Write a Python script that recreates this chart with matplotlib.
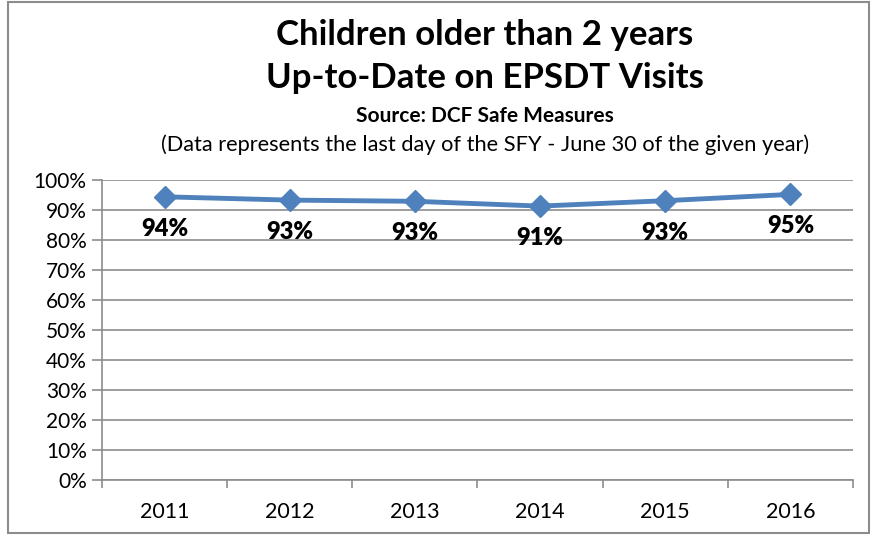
import matplotlib
matplotlib.use("Agg")
import matplotlib.pyplot as plt
from matplotlib.patches import Rectangle
import numpy as np

years = ["2011", "2012", "2013", "2014", "2015", "2016"]
values = [94.4, 93.3, 92.9, 91.3, 93.1, 95.2]
labels = ["94%", "93%", "93%", "91%", "93%", "95%"]
yticks = [0, 10, 20, 30, 40, 50, 60, 70, 80, 90, 100]

plt.rcParams['font.family'] = ['Lato', 'DejaVu Sans']

fig = plt.figure(figsize=(8.76, 5.39), dpi=100)
W, H = 876, 539
ax = fig.add_axes([102 / W, (H - 480) / H, (853 - 102) / W, 300 / H])

grey = "#8c8c8c"
x = np.arange(len(years))
ax.set_xlim(-0.5, len(years) - 0.5)
ax.set_ylim(0, 100)
ax.set_yticks(yticks)
ax.set_yticklabels([f"{v}%" for v in yticks], fontsize=15)
ax.yaxis.grid(True, color=grey, linewidth=1.2)
ax.set_axisbelow(True)
ax.set_xticks(x)
ax.set_xticklabels(years, fontsize=15.5)
ax.set_xticks(np.arange(-0.5, len(years)), minor=True)
ax.tick_params(axis='x', which='major', length=0, pad=16)
ax.tick_params(axis='x', which='minor', length=6, color=grey, width=1.2, direction='out')
ax.tick_params(axis='y', length=7, color=grey, width=1.2, pad=4)
for s in ['top', 'right']:
    ax.spines[s].set_visible(False)
for s in ['left', 'bottom']:
    ax.spines[s].set_color(grey)
    ax.spines[s].set_linewidth(1.2)

ax.plot(x, values, color="#4f81bd", linewidth=3.5, marker='D', markersize=11,
        markerfacecolor="#4f81bd", markeredgecolor="#4f81bd", zorder=3, clip_on=False)
for xi, v, lab in zip(x, values, labels):
    ax.annotate(lab, (xi, v), xytext=(0, -23), textcoords='offset points',
                ha='center', va='center', fontsize=17, fontweight='heavy')

fig.text(485 / W, 1 - 35 / H, "Children older than 2 years", ha='center', va='center',
         fontsize=25, fontweight='bold')
fig.text(485 / W, 1 - 78 / H, "Up-to-Date on EPSDT Visits", ha='center', va='center',
         fontsize=25, fontweight='bold')
fig.text(485 / W, 1 - 116 / H, "Source: DCF Safe Measures", ha='center', va='center',
         fontsize=15, fontweight='bold')
fig.text(485 / W, 1 - 145 / H, "(Data represents the last day of the SFY - June 30 of the given year)",
         ha='center', va='center', fontsize=15.7)

fig.patches.append(Rectangle((8 / W, (H - 533) / H), (869 - 8) / W, (533 - 2) / H,
                             transform=fig.transFigure, fill=False, edgecolor=grey, linewidth=1.5))

fig.savefig("out.png", dpi=100)
